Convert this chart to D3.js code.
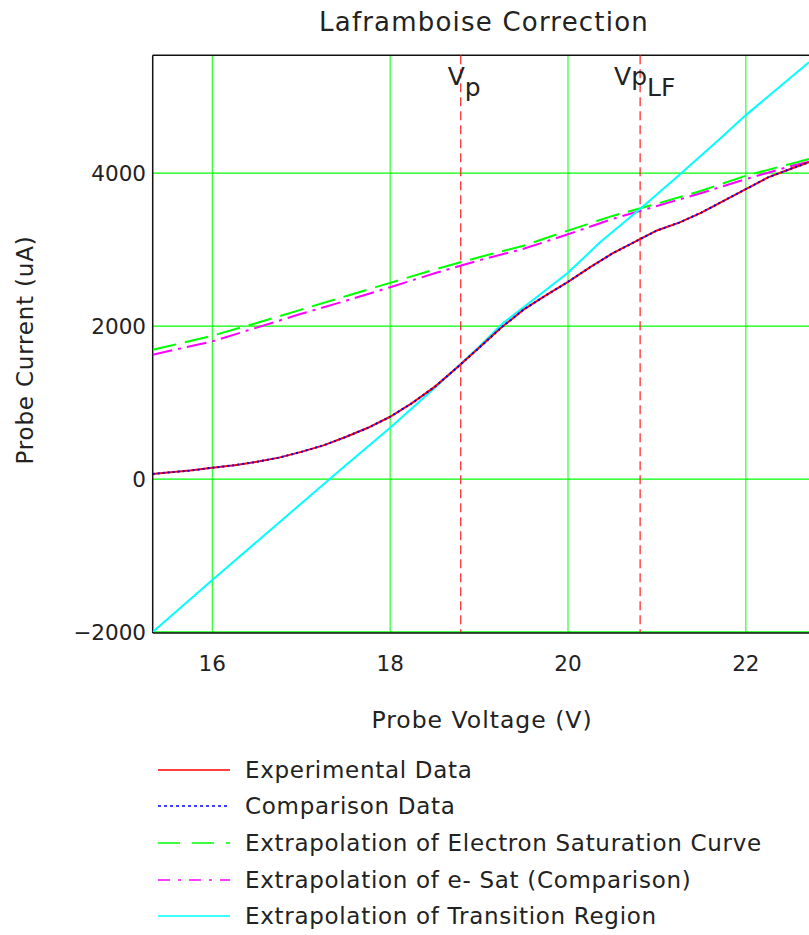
<!DOCTYPE html>
<html><head><meta charset="utf-8">
<script src="https://cdn.jsdelivr.net/npm/d3@7"></script>
<style>body{margin:0;background:#fff;}svg{display:block;font-family:"DejaVu Sans",sans-serif;}</style>
</head><body>
<svg id="c" width="809" height="935"></svg>
<script>
// ---- data ----
const voltages = [15.33,15.5,15.75,16.0,16.25,16.5,16.75,17.0,17.25,17.5,17.75,18.0,18.25,18.5,18.75,19.0,19.25,19.5,19.75,20.0,20.25,20.5,20.75,21.0,21.25,21.5,21.75,22.0,22.25,22.5,22.71];
const experimental = [65,85,110,148,180,225,280,355,440,550,670,814,995,1205,1455,1715,1980,2215,2400,2578,2770,2950,3100,3250,3353,3484,3638,3791,3944,4054,4141];
const comparison = [65,85,110,148,180,225,280,355,440,550,670,814,995,1205,1455,1715,1980,2215,2400,2578,2770,2950,3100,3250,3353,3484,3638,3791,3944,4054,4141];
const satVoltages = [15.33,15.5,16.0,16.5,17.0,17.5,18.0,18.5,19.0,19.5,20.0,20.5,21.0,21.5,22.0,22.5,22.71];
const electronSat = [1690,1735,1874,2040,2215,2390,2565,2740,2900,3050,3248,3440,3600,3769,3966,4120,4185];
const eSatComparison = [1624,1670,1799,1980,2160,2330,2508,2690,2860,3010,3200,3400,3570,3740,3922,4090,4150];
const transVoltages = [15.33,16.0,16.5,17.0,17.5,18.0,18.5,18.79,19.0,19.27,19.54,20.0,20.36,20.81,21.25,21.69,22.0,22.36,22.71];
const transition = [-2000,-1320,-820,-320,180,670,1190,1500,1730,2040,2281,2696,3095,3530,3975,4429,4758,5110,5450];
const xTicks = [16,18,20,22];
const yTicks = [-2000,0,2000,4000];
const vp = 18.794, vpLF = 20.811;
const legendLabels = ["Experimental Data","Comparison Data","Extrapolation of Electron Saturation Curve","Extrapolation of e- Sat (Comparison)","Extrapolation of Transition Region"];

// ---- layout ----
const svg = d3.select("#c");
const L = 152.7, R = 809, T = 55.3, B = 632;
const x = d3.scaleLinear().domain([15.33, 22.71]).range([L, R]);
const y = d3.scaleLinear().domain([-2000, 5540]).range([B, T]);

svg.append("defs").append("clipPath").attr("id","clip")
  .append("rect").attr("x",L).attr("y",T).attr("width",R-L+5).attr("height",B-T);

// grid
const g = svg.append("g");
g.selectAll(".gx").data(xTicks).join("line")
  .attr("x1",d=>x(d)).attr("x2",d=>x(d)).attr("y1",T).attr("y2",B)
  .attr("stroke","#00ff00").attr("stroke-width",1);
g.selectAll(".gy").data(yTicks).join("line")
  .attr("x1",L).attr("x2",R+5).attr("y1",d=>y(d)).attr("y2",d=>y(d))
  .attr("stroke","#00ff00").attr("stroke-width",1.3);

// frame
svg.append("line").attr("x1",L).attr("x2",L).attr("y1",T).attr("y2",B+1).attr("stroke","#111").attr("stroke-width",1.5);
svg.append("line").attr("x1",L).attr("x2",R+5).attr("y1",T).attr("y2",T).attr("stroke","#111").attr("stroke-width",1.5);
svg.append("line").attr("x1",L).attr("x2",R+5).attr("y1",B+1).attr("y2",B+1).attr("stroke","#111").attr("stroke-width",1.5);

// vertical markers
[vp, vpLF].forEach(v=>{
  svg.append("line").attr("x1",x(v)).attr("x2",x(v)).attr("y1",T).attr("y2",B)
    .attr("stroke","#ff2020").attr("stroke-width",1.2).attr("stroke-dasharray","9,5");
});

const line = (xs) => d3.line().x((d,i)=>x(xs[i])).y(d=>y(d));
const plot = svg.append("g").attr("clip-path","url(#clip)");
const series = [
  {vals: electronSat, xs: satVoltages, color:"#00ff00", dash:"24,9", w:2},
  {vals: eSatComparison, xs: satVoltages, color:"#ff00ff", dash:"20,6,3,6", w:2},
  {vals: transition, xs: transVoltages, color:"#00ffff", dash:null, w:2},
  {vals: experimental, xs: voltages, color:"#ff0000", dash:null, w:2},
  {vals: comparison, xs: voltages, color:"#0000ff", dash:"2,3", w:2}
];
series.forEach(s=>{
  plot.append("path").datum(s.vals).attr("d", line(s.xs))
    .attr("fill","none").attr("stroke",s.color).attr("stroke-width",s.w)
    .attr("stroke-dasharray",s.dash);
});

// ticks labels
const tc = "#222";
svg.selectAll(".xt").data(xTicks).join("text")
  .attr("x",d=>x(d)).attr("y",671).attr("text-anchor","middle")
  .attr("font-size",21.5).attr("fill",tc).text(d=>d);
svg.selectAll(".yt").data(yTicks).join("text")
  .attr("x",146).attr("y",d=>y(d)+8).attr("text-anchor","end")
  .attr("font-size",21.5).attr("fill",tc).text(d=>d<0?"\u2212"+Math.abs(d):d);

// titles
svg.append("text").attr("x",484).attr("y",31).attr("text-anchor","middle")
  .attr("font-size",26).attr("letter-spacing",1.2).attr("fill",tc).text("Laframboise Correction");
svg.append("text").attr("x",482).attr("y",728).attr("text-anchor","middle")
  .attr("font-size",23.5).attr("letter-spacing",1).attr("fill",tc).text("Probe Voltage (V)");
svg.append("text").attr("transform","translate(33,350) rotate(-90)").attr("text-anchor","middle")
  .attr("font-size",23).attr("letter-spacing",0.8).attr("fill",tc).text("Probe Current (uA)");

// annotations
const a1 = svg.append("text").attr("x",x(vp)-13).attr("y",85).attr("font-size",25).attr("fill",tc);
a1.append("tspan").text("V");
a1.append("tspan").attr("dy",11).text("p");
const a2 = svg.append("text").attr("x",x(vpLF)-26).attr("y",85).attr("font-size",25).attr("fill",tc);
a2.append("tspan").text("Vp");
a2.append("tspan").attr("dy",11).text("LF");

// legend
const lg = svg.append("g");
const ly = [770, 806, 843, 880, 916];
const legendSeries = [series[3], series[4], series[0], series[1], series[2]];
legendSeries.forEach((s,i)=>{
  lg.append("line").attr("x1",158).attr("x2",230).attr("y1",ly[i]).attr("y2",ly[i])
    .attr("stroke",s.color).attr("stroke-width",1.6).attr("stroke-dasharray", i==1?"3,3": i==2?"22,12": i==3?"12,8,3,8":null);
  lg.append("text").attr("x",245).attr("y",ly[i]+8).attr("font-size",23).attr("letter-spacing",0.7).attr("fill",tc).text(legendLabels[i]);
});
</script>
</body></html>
